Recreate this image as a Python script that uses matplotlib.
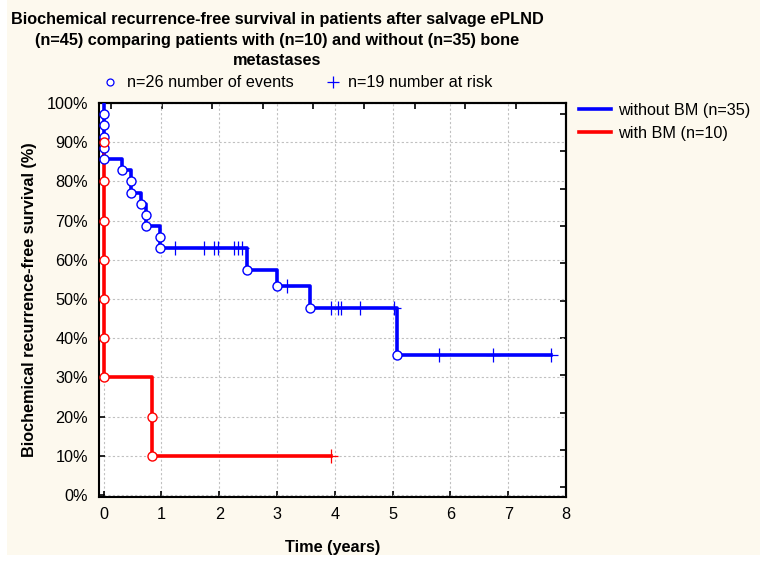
import numpy as np
import matplotlib.pyplot as plt
from matplotlib.patches import Rectangle
from matplotlib.lines import Line2D

plt.rcParams['font.family'] = ['Liberation Sans', 'DejaVu Sans']

# without BM (n=35)
blue_event_t = [0, 0, 0, 0, 0, 0.31, 0.48, 0.48, 0.65, 0.74, 0.74, 0.98, 0.98, 2.48, 3.0, 3.57, 5.07]
blue_event_s = [97.1, 94.3, 91.4, 88.6, 85.7, 82.9, 80.0, 77.1, 74.3, 71.4, 68.6, 65.7, 62.9, 57.4, 53.3, 47.6, 35.7]
blue_cens_t = [1.24, 1.74, 1.91, 1.98, 2.26, 2.33, 2.40, 3.17, 3.93, 4.05, 4.10, 4.43, 5.03, 5.81, 6.74, 7.74]

# with BM (n=10)
red_event_t = [0, 0, 0, 0, 0, 0, 0, 0.83, 0.83]
red_event_s = [90, 80, 70, 60, 50, 40, 30, 20, 10]
red_cens_t = [3.93]

x_ticks = [0, 1, 2, 3, 4, 5, 6, 7, 8]
y_ticks = [0, 10, 20, 30, 40, 50, 60, 70, 80, 90, 100]

cream = '#fdf9ee'
W, H = 760, 561
fs = 11.7

fig = plt.figure(figsize=(W / 100, H / 100), dpi=100, facecolor='white')
fig.patches.append(Rectangle((7 / W, 6 / H), 1 - 7 / W, 1 - 6 / H, transform=fig.transFigure,
                             facecolor=cream, edgecolor='none', zorder=-10))

ax = fig.add_axes([99 / W, 1 - 497 / H, (566 - 99) / W, (497 - 103) / H])
ax.set_facecolor('white')


def km_curve(ax, ev_t, ev_s, cens_t, color, from_top=True):
    ev_t = np.array(ev_t)
    ev_s = np.array(ev_s)
    end = max(max(cens_t), ev_t.max())
    if from_top:
        xs = np.concatenate([[0], ev_t, [end]])
        ys = np.concatenate([[100], ev_s, [ev_s[-1]]])
    else:
        xs = np.concatenate([ev_t, [end]])
        ys = np.concatenate([ev_s, [ev_s[-1]]])
    ax.step(xs, ys, where='post', color=color, lw=2.6, zorder=3)
    # survival level at each censor time
    idx = np.searchsorted(ev_t, cens_t, side='right') - 1
    cs = np.where(idx >= 0, ev_s[np.clip(idx, 0, None)], 100)
    ax.plot(cens_t, cs, ls='none', marker='+', ms=10, mew=0.9, color=color, zorder=4)
    ax.plot(ev_t, ev_s, ls='none', marker='o', ms=6.5, mew=1.0, mfc='white', mec=color, zorder=5)


km_curve(ax, blue_event_t, blue_event_s, blue_cens_t, '#0000ff')
km_curve(ax, red_event_t, red_event_s, red_cens_t, '#ff0000', from_top=False)

ax.set_xlim(-0.08, 8.0)
ax.set_ylim(-0.5, 100)
ax.set_xticks(x_ticks)
ax.set_yticks(y_ticks)
ax.set_yticklabels([f'{v}%' for v in y_ticks])
ax.tick_params(direction='in', length=4, width=1.2, labelsize=fs, colors='black')
ax.tick_params(axis='x', pad=7)
ax.tick_params(axis='y', pad=8)
ax.grid(True, color='#c0c0c0', ls=(0, (2, 2)), lw=0.8)
for s in ax.spines.values():
    s.set_linewidth(1.5)

# extra ticks on top and right spines
top = ax.secondary_xaxis('top')
top.set_xticks(np.arange(0.13, 8.0, 0.875), labels=[])
right = ax.secondary_yaxis('right')
right.set_yticks(np.arange(97.2, 0, -9.52), labels=[])
for sec in (top, right):
    sec.tick_params(direction='in', length=4, width=1.2)
top.spines['top'].set_linewidth(1.5)
right.spines['right'].set_linewidth(1.5)

ax.set_xlabel('Time (years)', fontsize=fs, fontweight='bold', labelpad=13)
ax.set_ylabel('Biochemical recurrence-free survival (%)', fontsize=fs, fontweight='bold', labelpad=7)

fig.text(277 / W, 1 - 40 / H,
         'Biochemical recurrence-free survival in patients after salvage ePLND\n'
         '(n=45) comparing patients with (n=10) and without (n=35) bone\n'
         'metastases',
         ha='center', va='center', fontsize=fs, fontweight='bold', linespacing=1.45)

# header legend
fig.add_artist(Line2D([110 / W], [1 - 82 / H], marker='o', ms=5, mew=0.9, mfc='white', mec='#0000ff',
                      transform=fig.transFigure))
fig.text(127 / W, 1 - 82 / H, 'n=26 number of events', ha='left', va='center', fontsize=fs)
fig.add_artist(Line2D([333 / W], [1 - 82 / H], marker='+', ms=8, mew=0.9, color='#0000ff',
                      transform=fig.transFigure))
fig.text(348 / W, 1 - 82 / H, 'n=19 number at risk', ha='left', va='center', fontsize=fs)

handles = [Line2D([], [], color='#0000ff', lw=2.6), Line2D([], [], color='#ff0000', lw=2.6)]
fig.legend(handles, ['without BM (n=35)', 'with BM (n=10)'], loc='upper left',
           bbox_to_anchor=(564 / W, 1 - 88 / H), frameon=False, fontsize=fs,
           handlelength=2.0, handletextpad=0.4, labelspacing=0.5)

fig.savefig('out.png', dpi=100, facecolor='white')
